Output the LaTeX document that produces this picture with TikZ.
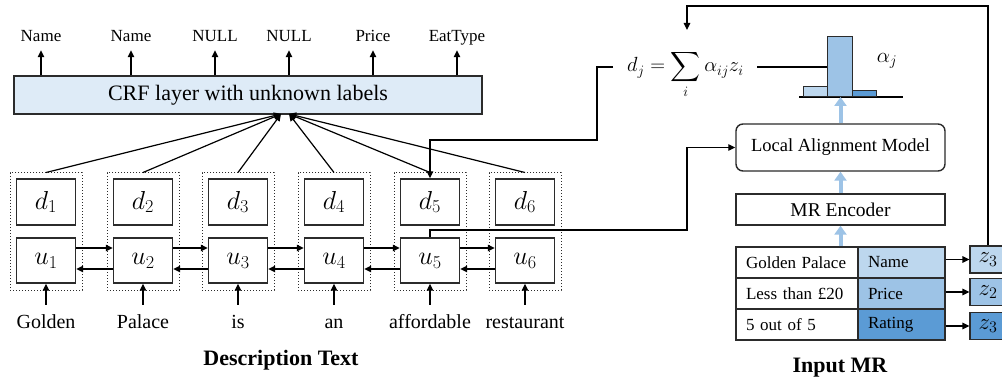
\RequirePackage{fix-cm}
\documentclass[tikz,border=0pt]{standalone}
\usepackage{exscale}
\usepackage{fontspec}
\setmainfont{Liberation Serif}
\usetikzlibrary{arrows.meta}
\definecolor{crffill}{HTML}{DEEBF7}
\definecolor{blueA}{HTML}{BDD7EE}
\definecolor{blueB}{HTML}{9DC3E6}
\definecolor{blueC}{HTML}{5B9BD5}
\definecolor{edge}{HTML}{2B2B2B}
\newcommand\fsz[1]{\fontsize{#1}{#1}\selectfont}

\begin{document}
\begin{tikzpicture}[x=1pt,y=-1pt,
  arr/.style={line width=1.2pt, -{Triangle[length=7pt,width=6.5pt]}},
  ln/.style={line width=1.2pt},
  barr/.style={line width=4pt, draw=blueB, -{Triangle[length=9pt,width=12pt]}},
  box/.style={draw=edge, line width=1.4pt, inner sep=0pt},
  mbox/.style={box, minimum width=59pt, minimum height=46pt, font=\fsz{26}},
  col/.style={draw=edge, dotted, line width=1pt, minimum width=72pt, minimum height=117pt, inner sep=0pt},
  lab/.style={anchor=base, inner sep=0pt, text depth=0pt, font=\fsz{17}},
  word/.style={anchor=base, inner sep=0pt, text height=14pt, text depth=0pt, font=\fsz{20}},
  cellL/.style={box, line width=1.2pt, fill=white, text width=102pt, inner xsep=10pt, minimum height=31pt, align=left, font=\fsz{17}},
  cellR/.style={box, line width=1.2pt, text width=67pt, inner xsep=10pt, minimum height=31pt, align=left, font=\fsz{17}},
  zbox/.style={box, line width=1.2pt, minimum width=36pt, minimum height=27pt, font=\fsz{23}},
  bar/.style={draw=edge, line width=1.1pt, inner sep=0pt, anchor=south west},
  title/.style={anchor=base, inner sep=0pt, font=\bfseries\fsz{22}}
]
\fill[white] (0,0) rectangle (1002,377);
\useasboundingbox (0,0) rectangle (1002,377);

% CRF layer and its output labels
\node[box, fill=crffill, minimum width=468pt, minimum height=38pt, font=\fsz{22}] (crf) at (248,95) {CRF layer with unknown labels};
\foreach \n/\x/\t in {1/41/Name,2/131/Name,3/215/NULL,4/289/NULL,5/373/Price,6/457/EatType} {
  \node[lab] (l\n) at (\x,42) {\t};
  \draw[arr, shorten >=8pt] (crf.north -| l\n) -- (l\n.south);
}

% token columns: d over u, grouped by a dotted frame
\foreach \i/\x/\w in {1/46/Golden,2/143/Palace,3/238/is,4/334/an,5/430/affordable,6/525/restaurant} {
  \node[col] (c\i) at (\x,231.5) {};
  \node[mbox] (d\i) at (\x,202) {$d_{\i}$};
  \node[mbox, minimum height=45pt] (u\i) at (\x,260.5) {$u_{\i}$};
  \node[word] (w\i) at (\x,328) {\w};
  \draw[arr, shorten <=9pt] (w\i.north) -- (u\i.south);
}

% bidirectional recurrence between u nodes
\foreach \i [evaluate=\i as \j using int(\i+1)] in {1,...,5} {
  \draw[arr] ([yshift=12.5pt]u\i.east) -- ([yshift=12.5pt]u\j.west);
  \draw[arr] ([yshift=-8.5pt]u\j.west) -- ([yshift=-8.5pt]u\i.east);
}

% columns feeding the CRF layer
\coordinate (cvL) at (281,114);
\coordinate (cvR) at (289,114);
\foreach \i in {1,2,3} \draw[arr] (c\i.north) -- (cvL);
\foreach \i in {4,5,6} \draw[arr] (c\i.north) -- (cvR);

% alignment formula and attention histogram
\node[anchor=base west, inner sep=0pt, font=\fsz{20.5}] (f) at (627,72) {$\displaystyle d_j = \sum_i \alpha_{ij} z_i$};
\coordinate (fl) at (613,67);
\coordinate (fr) at (757,67);
\coordinate (j1) at (597,140);
\draw[arr] (fl) -| (j1) -| (d5.north);

\coordinate (hb1) at (799,97);
\coordinate (hb2) at (903,97);
\draw[ln] (hb1) -- (hb2);
\node[bar, fill=blueA, minimum width=24pt, minimum height=10pt] (h1) at (803,97) {};
\node[bar, fill=blueB, minimum width=25pt, minimum height=60pt] (h2) at (827,97) {};
\node[bar, fill=blueC, minimum width=24pt, minimum height=6pt] (h3) at (852,97) {};
\draw[ln] (fr) -- (fr -| h2.west);
\node[font=\fsz{21}] (alpha) at (887,61) {$\alpha_j$};

% MR side
\node[box, rounded corners=7pt, minimum width=209pt, minimum height=47pt, font=\fsz{18.5}] (lam) at (840.5,147.5) {Local Alignment Model};
\node[box, minimum width=209pt, minimum height=31pt, font=\fsz{19.5}] (mr) at (840.5,209.5) {MR Encoder};

\node[cellL] (t1l) at (797,262.5) {Golden Palace};
\node[cellL] (t2l) at (797,293.5) {Less than £20};
\node[cellL] (t3l) at (797,324.5) {5 out of 5};
\node[cellR, fill=blueA] (t1r) at (901.5,262.5) {Name};
\node[cellR, fill=blueB] (t2r) at (901.5,293.5) {Price};
\node[cellR, fill=blueC] (t3r) at (901.5,324.5) {Rating};

\node[zbox, fill=blueA] (z1) at (988,259.5) {$z_3$};
\node[zbox, fill=blueB] (z2) at (988,292) {$z_2$};
\node[zbox, fill=blueC] (z3) at (988,326) {$z_3$};
\draw[arr] (t1r.east |- z1) -- (z1.west);
\draw[arr] (t2r.east |- z2) -- (z2.west);
\draw[arr] (t3r.east |- z3) -- (z3.west);

\draw[barr] (mr.south |- t1l.north) -- (mr.south);
\draw[barr] (mr.north) -- (lam.south);
\draw[barr] (lam.north) -- (lam.north |- hb1);

% feedback loop and link from u5
\coordinate (fb1) at (687,6);
\coordinate (fb2) at (687,30);
\draw[arr] (z1.north) |- (fb1) -- (fb2);
\coordinate (k1) at (687,230);
\draw[arr] (u5.north) |- (k1) |- (lam.west);

% captions
\node[title] (cap1) at (281,365) {Description Text};
\node[title] (cap2) at (840,372) {Input MR};
\end{tikzpicture}
\end{document}
